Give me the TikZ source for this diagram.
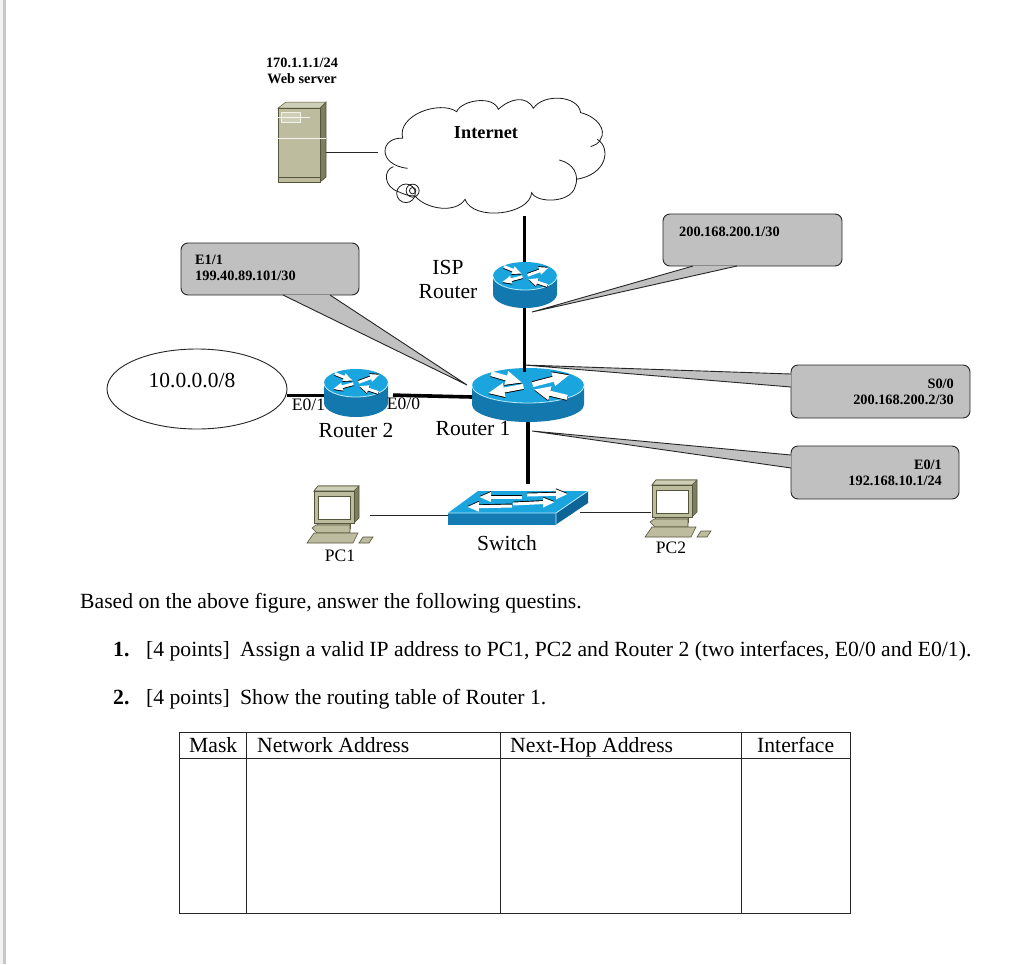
\documentclass[tikz,border=0pt]{standalone}
\usepackage{fontspec}
\setmainfont{Liberation Serif}
\usetikzlibrary{arrows.meta,calc,shapes.geometric}
\definecolor{ciscoTop}{HTML}{1BA5DF}
\definecolor{ciscoSide}{HTML}{1378AE}
\definecolor{ciscoDark}{HTML}{0D6496}
\definecolor{ciscoEdge}{HTML}{BDEEFF}
\definecolor{kitFace}{HTML}{BDBC9E}
\definecolor{kitLight}{HTML}{CFCEB6}
\definecolor{kitDark}{HTML}{7D7D5F}
\definecolor{kitLine}{HTML}{55553C}
\definecolor{calloutGray}{HTML}{C0C0C0}
\tikzset{
  devbox/.style={inner sep=0pt,outer sep=0pt,minimum width=#1},
  callout/.style={draw=black!85,line width=0.9pt},
  thinlink/.style={draw=black!85,line width=0.9pt},
  heavylink/.style={draw=black,line width=3pt},
  tag/.style={font=\fontsize{14.3}{16}\bfseries\selectfont,inner sep=0pt},
  label/.style={font=\fontsize{21.5}{24}\selectfont,inner sep=0pt},
  smalllabel/.style={font=\fontsize{17.5}{20}\selectfont,inner sep=0pt},
  body/.style={font=\fontsize{21.65}{24}\selectfont,inner sep=0pt,anchor=base west},
  gridline/.style={draw=black!85,line width=0.9pt}
}
% Grey speech box: corners x0,y0,x1,y1, then tail base, tip, tail base
\newcommand{\speechbox}[7]{%
  \fill[calloutGray,callout,rounded corners=7pt] (#1,#2) rectangle (#3,#4);
  \fill[calloutGray] #5 -- #6 -- #7 -- cycle;
  \draw[callout,line join=miter] #5 -- #6 -- #7;
}
% White router arrow with a thin black shadow: tail x,y, tip x,y in router units, shadow offset
\newcommand{\routerarrow}[5]{%
  \draw[black,line width=\rlw pt,-{Triangle[length=\rhl pt,width=\rhw pt]},yshift=#5] (#1,#2) -- (#3,#4);
  \draw[white,line width=\rlw pt,-{Triangle[length=\rhl pt,width=\rhw pt]}] (#1,#2) -- (#3,#4);
}
% Router cylinder: centre x, centre y of the lid, x radius, y radius, depth
\newcommand{\routerart}[5]{%
  \begin{scope}[shift={(#1,#2)}]
    \fill[ciscoSide] (-#3,0) -- (-#3,#5)
      arc[start angle=180,end angle=360,x radius=#3pt,y radius=#4pt] -- (#3,0) -- cycle;
    \fill[ciscoTop] (0,0) ellipse[x radius=#3pt,y radius=#4pt];
    \draw[ciscoEdge,line width=0.8pt] (-#3,0)
      arc[start angle=180,end angle=360,x radius=#3pt,y radius=#4pt];
    \pgfmathsetmacro{\rlw}{0.09*#3}
    \pgfmathsetmacro{\rhl}{0.30*#3}
    \pgfmathsetmacro{\rhw}{0.23*#3}
    \begin{scope}[x=#3pt,y=-#4pt]
      \routerarrow{0.08}{-0.05}{0.74}{-0.60}{0.9pt}
      \routerarrow{-0.08}{0.05}{-0.72}{0.44}{-0.9pt}
      \routerarrow{-0.66}{-0.68}{-0.10}{-0.16}{-0.9pt}
      \routerarrow{0.70}{0.68}{0.10}{0.22}{-0.9pt}
    \end{scope}
  \end{scope}
}
% Desktop computer, origin at the monitor's upper left corner
\newcommand{\pcart}[2]{%
  \begin{scope}[shift={(#1,#2)}]
    \filldraw[kitDark,draw=kitLine,line width=0.6pt] (0,5) -- (4,0) -- (45,0) -- (45,32) -- (40,37) -- (40,5) -- cycle;
    \filldraw[kitLight,draw=kitLine,line width=0.6pt] (0,5) -- (4,0) -- (45,0) -- (40,5) -- cycle;
    \filldraw[kitFace,draw=kitLine,line width=0.8pt] (0,5) rectangle (40,37);
    \filldraw[white,draw=kitLine,line width=0.7pt] (4,10) rectangle (36,33);
    \filldraw[kitFace,draw=kitLine,line width=0.6pt] (3,37) rectangle (36,42);
    \filldraw[kitFace,draw=kitLine,line width=0.6pt] (-2,42) -- (2,39) -- (36,39) -- (36,47) -- (3,47) -- cycle;
    \filldraw[kitFace,draw=kitLine,line width=0.6pt] (-7,57) -- (0,47) -- (44,47) -- (39,57) -- cycle;
    \filldraw[kitFace,draw=kitLine,line width=0.6pt] (45,57) -- (49,51) -- (59,51) -- (55,57) -- cycle;
  \end{scope}
}
\begin{document}
\begin{tikzpicture}[x=1pt,y=-1pt]
\useasboundingbox (0,0) rectangle (1025,964);
\fill[white] (0,0) rectangle (1025,964);
% page edge of the scanned sheet
\fill[black!5] (0,0) rectangle (3,964);
\fill[black!22] (3,0) rectangle (6,964);

% anchor boxes of the devices
\node[devbox=48pt,minimum height=60pt] (server) at (302,152) {};
\node[devbox=228pt,minimum height=128pt] (cloud) at (492,152) {};
\node[devbox=64pt,minimum height=46pt] (isp) at (524.5,285) {};
\node[devbox=112pt,minimum height=50pt] (r1) at (528,397) {};
\node[devbox=64pt,minimum height=44pt] (r2) at (356,395) {};
\node[devbox=140pt,minimum height=33pt] (sw) at (518,507.5) {};
\node[devbox=63pt,minimum height=58pt] (pc1) at (338.5,515) {};
\node[devbox=66pt,minimum height=64pt] (pc2) at (684,512) {};
\node[draw=black!85,line width=0.9pt,ellipse,minimum width=180pt,minimum height=80pt,inner sep=0pt] (net) at (197,389) {};

% web server cabinet
\filldraw[kitDark,draw=kitLine,line width=0.7pt] (320,108) -- (326,102) -- (326,177) -- (320,182) -- cycle;
\filldraw[kitLight,draw=kitLine,line width=0.5pt] (278,108) -- (286,102) -- (326,102) -- (320,108) -- cycle;
\filldraw[kitFace,draw=kitLine,line width=0.8pt] (278,108) rectangle (320,182);
\draw[kitLine,line width=0.7pt] (278,177) -- (320,177);
\draw[white!85!kitFace,line width=0.9pt] (278,138) -- (326,138);
\filldraw[kitLight,draw=white!80!kitFace,line width=0.7pt] (281,112) rectangle (300,122);
\draw[white!85!kitFace,line width=0.8pt] (278,117) -- (310,117);

% Internet cloud
\begin{scope}[shift={(240,40)},x=0.3333pt,y=-0.3333pt,black!90,line width=0.8pt]
  \draw (488,295) .. controls (470,225) and (600,180) .. (650,215)
        .. controls (665,180) and (760,165) .. (775,208)
        .. controls (810,175) and (860,165) .. (880,205)
        .. controls (910,160) and (1015,165) .. (1022,218)
        .. controls (1072,230) and (1100,270) .. (1082,297)
        .. controls (1078,310) and (1065,315) .. (1052,320);
  \draw (1072,298) .. controls (1115,325) and (1100,405) .. (1008,418);
  \draw (958,360) .. controls (1000,370) and (1020,405) .. (1005,442)
        .. controls (990,490) and (890,490) .. (875,458)
        .. controls (870,525) and (700,545) .. (675,478)
        .. controls (650,520) and (560,510) .. (525,468)
        .. controls (505,468) and (490,462) .. (475,455)
        .. controls (430,440) and (430,390) .. (460,380);
  \draw (488,295) .. controls (420,290) and (410,375) .. (503,385);
  \draw (498,460) circle[radius=9.3pt];
  \draw (518,452) circle[radius=6.5pt];
  \draw (518,452) circle[radius=3.2pt];
\end{scope}

% routers
\routerart{525}{276}{32}{14}{18}
\routerart{528}{385.5}{56}{17.5}{19}
\routerart{356}{383}{32}{14}{20}

% switch
\fill[ciscoTop] (448,513) -- (478,491) -- (588,491) -- (556,513) -- cycle;
\fill[ciscoSide!92!ciscoTop] (448,513) rectangle (556,524.5);
\fill[ciscoDark] (556,513) -- (588,491) -- (588,503) -- (556,524.5) -- cycle;
\draw[ciscoEdge,line width=0.8pt] (448,513) -- (556,513) -- (588,491) (556,513) -- (556,524.5);
\begin{scope}
  \def\swarrow#1#2#3#4{%
    \draw[black,line width=3pt,-{Triangle[length=12pt,width=9pt]},yshift=0.9pt] (#1,#2) -- (#3,#4);
    \draw[white,line width=3pt,-{Triangle[length=12pt,width=9pt]}] (#1,#2) -- (#3,#4);}
  \swarrow{522}{497}{479}{497}
  \swarrow{527}{495}{568}{494}
  \swarrow{512}{506}{467}{507}
  \swarrow{513}{504}{555}{502}
\end{scope}

% computers
\pcart{314}{486}
\pcart{652}{480}

% callouts
\coordinate (tipA) at (467,385);
\coordinate (tipB) at (532,312);
\coordinate (tipC) at (524,365);
\coordinate (tipD) at (532,431);
\speechbox{181}{243}{359}{295}{(283,295)}{(tipA)}{(330,295)}
\speechbox{663}{214}{842}{266}{(693,266)}{(tipB)}{(737,266)}
\speechbox{791}{365}{970}{418}{(791,374)}{(tipC)}{(791,387)}
\speechbox{791}{446}{959}{499}{(791,455)}{(tipD)}{(791,468)}

% links
\draw[thinlink] (server.east) -- (cloud.west);
\draw[heavylink] (isp.north) -- (isp.north |- cloud.south);
\draw[heavylink] (isp.south) -- (isp.south |- r1.north);
\draw[heavylink,line width=3.6pt,shorten >=7pt] (r1.south) -- (r1.south |- sw.north);
\draw[heavylink] (r2.west) -- (r2.west -| net.east);
\draw[heavylink,line width=3.6pt,shorten <=5pt] (r2.east) -- (r1.west);
\draw[thinlink] (pc1.east) -- (pc1.east -| sw.west);
\draw[thinlink,shorten >=-8pt] (pc2.west) -- (pc2.west -| sw.east);

% device and address labels
\node[tag,align=center] (lblweb) at (302,71) {170.1.1.1/24\\Web server};
\node[tag,font=\fontsize{18.3}{20}\bfseries\selectfont] (lblnet) at (486,133) {Internet};
\node[label,align=center,font=\fontsize{21.5}{24}\selectfont] (lblisp) at (448,279) {ISP\\Router};
\node[label] (lblten) at (192,380) {10.0.0.0/8};
\node[smalllabel] (lble01) at (308.5,405) {E0/1};
\node[smalllabel] (lble00) at (403.5,404) {E0/0};
\node[label] (lblr2) at (356,430) {Router 2};
\node[label] (lblr1) at (473,429) {Router 1};
\node[label] (lblsw) at (507,543) {Switch};
\node[smalllabel] (lblpc1) at (340,556) {PC1};
\node[smalllabel] (lblpc2) at (671,548) {PC2};
\node[tag,align=left,anchor=west] (tagA) at (195,268) {E1/1\\199.40.89.101/30};
\node[tag,anchor=west] (tagB) at (679,232) {200.168.200.1/30};
\node[tag,align=right,anchor=east] (tagC) at (954,392) {S0/0\\200.168.200.2/30};
\node[tag,align=right,anchor=east] (tagD) at (942,473) {E0/1\\192.168.10.1/24};

% questions
\node[body] (intro) at (80,608) {Based on the above figure, answer the following questins.};
\node[body,font=\fontsize{21.65}{24}\bfseries\selectfont] (num1) at (113,656) {1.};
\node[body] (pts1) at (146,656) {[4 points]};
\node[body] (q1) at (240,656) {Assign a valid IP address to PC1, PC2 and Router 2 (two interfaces, E0/0 and E0/1).};
\node[body,font=\fontsize{21.65}{24}\bfseries\selectfont] (num2) at (113,704) {2.};
\node[body] (pts2) at (146,704) {[4 points]};
\node[body] (q2) at (240,704) {Show the routing table of Router 1.};

% routing table
\draw[gridline] (179,732) rectangle (850,913);
\draw[gridline] (179,758) -- (850,758);
\draw[gridline] (246,732) -- (246,913);
\draw[gridline] (500,732) -- (500,913);
\draw[gridline] (741,732) -- (741,913);
\node[body] (thmask) at (189,752.5) {Mask};
\node[body] (thnet) at (257,752.5) {Network Address};
\node[body] (thhop) at (510,752.5) {Next-Hop Address};
\node[body] (thif) at (757,752.5) {Interface};
\end{tikzpicture}
\end{document}
